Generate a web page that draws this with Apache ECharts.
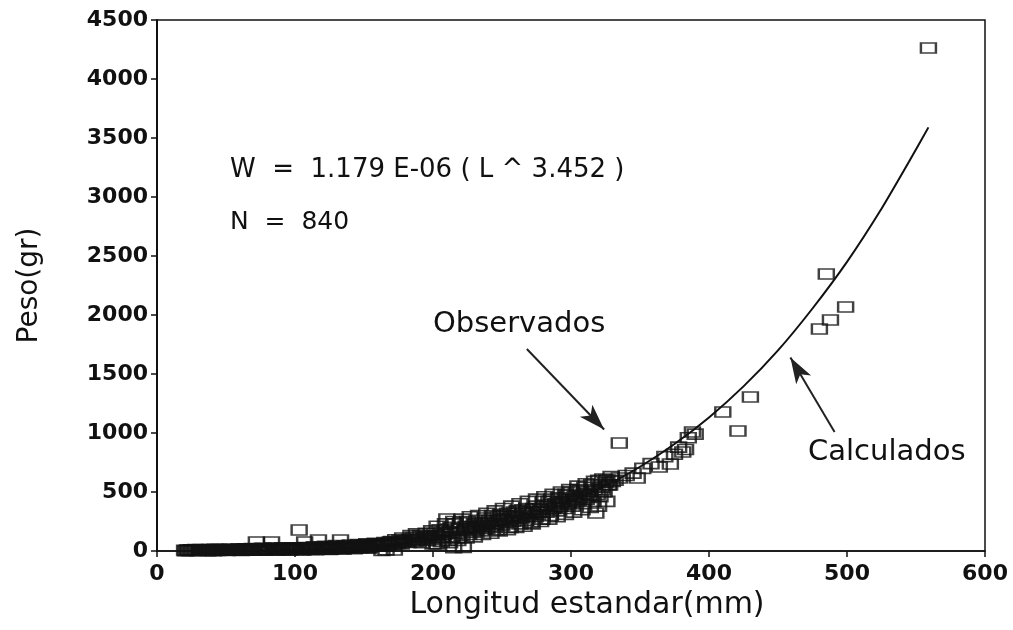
<!DOCTYPE html>
<html>
<head>
<meta charset="utf-8">
<script src="https://cdn.jsdelivr.net/npm/echarts@6/dist/echarts.min.js"></script>
<style>
  html, body { margin: 0; padding: 0; background: #fff; }
  #chart { width: 1013px; height: 630px; }
</style>
</head>
<body>
<div id="chart"></div>
<script>
// longitud estandar (mm) / peso (gr), observados
var obsL = [
  20,22,24,25,27,28,30,31,33,35,36,38,40,41,43,45,46,48,50,51,53,55,56,58,60,
  62,64,65,67,69,70,72,73,75,77,78,80,82,83,84,86,88,90,91,93,95,96,98,99,
  101,103,104,106,107,108,110,112,114,116,117,118,120,122,124,126,128,130,132,133,134,136,138,140,142,144,146,148,150,152,154,156,158,160,162,163,165,166,167,168,170,
  171,172,173,175,177,178,180,182,184,185,187,188,190,192,193,195,196,198,199,200,202,203,205,206,208,210,
  211,212,213,214,215,216,217,218,219,220,221,222,223,224,225,226,228,229,230,232,233,235,236,238,239,240,242,243,245,246,248,249,250,
  251,253,254,256,257,258,260,261,263,264,266,267,268,270,271,272,274,275,276,278,279,280,282,283,285,286,287,289,290,
  291,292,294,295,296,298,299,300,301,303,304,305,306,308,309,310,311,312,314,315,316,317,318,319,320,321,322,324,325,326,328,
  332,335,335,340,345,348,352,358,364,368,372,375,378,381,383,385,388,390,410,421,430,480,485,488,499,559,
  152,157,161,164,169,174,176,179,183,186,189,191,194,197,201,204,207,209,227,231,234,237,241,244,247,252,255,259,262,265,269,273,277,281,284,288,293,297,302,307,313,323,327,330,
  21,23,26,29,32,34,37,39,42,44,47,49,52,54,57,59,61,63,66,68,71,74,76,79,81,85,87,89,92,94,97,100,102,105,109,111,113,115,119,121,123,125,127,129,131,135,137,139,141,143,145,147,149,151,153,155,159,
  200,203,206,209,212,215,218,221,224,227,230,233,236,239,242,245,248,251,254,257,260,263,266,269,272,275,278,281,284,287,290,293,296,299,302,305,308,311,314,317,320,323,326,329
];
var obsW = [
  5,8,3,10,6,12,4,9,7,11,5,13,8,3,10,14,6,9,12,4,15,8,11,6,14,
  10,18,7,12,20,9,76,15,11,22,8,16,13,76,25,10,18,14,28,12,20,9,24,15,
  17,178,26,12,76,30,20,14,35,22,93,18,30,40,24,16,36,45,28,93,20,42,32,50,26,38,55,34,44,60,30,48,66,40,56,5,72,10,46,62,80,
  55,8,95,70,60,110,85,72,130,95,80,145,100,70,120,150,88,110,170,95,130,60,180,115,140,271,
  90,160,200,120,28,230,150,110,190,240,130,30,175,210,250,140,190,160,230,200,260,170,220,280,190,240,210,300,230,180,260,310,220,
  270,240,320,200,290,250,300,340,230,280,320,260,360,300,240,330,290,380,310,350,270,420,330,380,300,440,360,400,340,
  450,380,420,360,480,400,440,500,380,460,420,520,450,400,480,540,440,500,470,560,420,520,322,480,600,460,540,500,580,602,560,
  600,619,915,640,660,619,700,740,712,800,737,820,880,839,860,960,1008,990,1178,1017,1305,1881,2347,1958,2068,4263,
  35,50,60,45,75,65,90,80,100,115,90,130,105,125,150,110,160,175,200,180,240,210,260,200,290,300,260,330,280,350,320,360,330,390,420,370,410,470,430,510,470,520,560,590,
  2,6,9,4,12,7,3,10,14,5,8,11,6,13,9,16,4,12,18,7,14,10,20,6,15,22,11,17,8,19,26,13,21,9,28,16,24,11,32,19,27,14,38,22,30,17,40,25,33,20,45,28,36,52,24,42,58,
  60,210,80,230,70,250,90,270,110,290,120,300,140,320,150,340,170,360,180,380,200,400,210,420,230,440,250,460,270,480,290,500,310,520,330,550,350,570,370,590,380,610,420,630
];
// curva calculada
var calcL = [20, 50, 75, 100, 125, 150, 175, 200, 225, 250, 275, 300, 325, 350, 375, 400, 425, 450, 475, 500, 525, 545, 559];
var calcW = [0, 1, 3.5, 9, 20, 38, 65, 103, 155, 223, 310, 419, 554, 714, 907, 1132, 1395, 1700, 2055, 2450, 2900, 3300, 3590];
var xTicks = [0, 100, 200, 300, 400, 500, 600];
var yTicks = [0, 500, 1000, 1500, 2000, 2500, 3000, 3500, 4000, 4500];

var obsData = obsL.map(function (l, i) { return [l, obsW[i]]; });
var calcData = calcL.map(function (l, i) { return [l, calcW[i]]; });

var font = "DejaVu Sans";
var chart = echarts.init(document.getElementById("chart"));
var option = {
  backgroundColor: "#fff",
  animation: false,
  grid: {
    left: 157, right: 28, top: 20, bottom: 79,
    show: true, borderColor: "#111", borderWidth: 1.5
  },
  xAxis: {
    type: "value", min: xTicks[0], max: xTicks[xTicks.length - 1], interval: 100,
    name: "Longitud estandar(mm)", nameLocation: "middle", nameGap: 38,
    nameTextStyle: { fontFamily: font, fontSize: 30, color: "#111", padding: [0, 0, 0, 32] },
    axisLine: { lineStyle: { color: "#111", width: 1.5 } },
    axisTick: { show: true, length: 6, lineStyle: { color: "#111", width: 1.5 } },
    axisLabel: { fontFamily: font, fontSize: 22, fontWeight: "bold", color: "#111", margin: 12 },
    splitLine: { show: false }
  },
  yAxis: {
    type: "value", min: yTicks[0], max: yTicks[yTicks.length - 1], interval: 500,
    name: "Peso(gr)", nameLocation: "middle", nameGap: 113,
    nameTextStyle: { fontFamily: font, fontSize: 28, color: "#111" },
    axisLine: { show: true, lineStyle: { color: "#111", width: 2 } },
    axisTick: { show: true, length: 6, lineStyle: { color: "#111", width: 1.5 } },
    axisLabel: {
      fontFamily: font, fontSize: 22, fontWeight: "bold", color: "#111", margin: 9,
      formatter: function (v) { return String(v); }
    },
    splitLine: { show: false }
  },
  series: [
    {
      name: "Observados",
      type: "scatter",
      data: obsData,
      symbol: "rect",
      symbolSize: [15, 10],
      itemStyle: { color: "rgba(255,255,255,0)", borderColor: "#111", borderWidth: 2 },
      z: 3
    },
    {
      name: "Calculados",
      type: "line",
      data: calcData,
      smooth: 0.2,
      showSymbol: false,
      lineStyle: { color: "#111", width: 2 },
      z: 4,
      markLine: {
        silent: true,
        symbol: ["none", "arrow"],
        symbolSize: [13, 26],
        label: { show: false },
        lineStyle: { color: "#222", width: 2, type: "solid" },
        data: [
          [{ coord: [268, 1712] }, { coord: [324, 1030] }],
          [{ coord: [491, 1008] }, { coord: [459, 1640] }]
        ]
      }
    }
  ],
  graphic: [
    { type: "text", left: 230, top: 157, style: { text: "W  =  1.179 E-06 ( L ^ 3.452 )", font: "26px " + font, fill: "#111" } },
    { type: "text", left: 230, top: 210, style: { text: "N  =  840", font: "25px " + font, fill: "#111" } },
    { type: "text", left: 433, top: 310, style: { text: "Observados", font: "29px " + font, fill: "#111" } },
    { type: "text", left: 808, top: 438, style: { text: "Calculados", font: "29px " + font, fill: "#111" } }
  ]
};
chart.setOption(option);
</script>
</body>
</html>
